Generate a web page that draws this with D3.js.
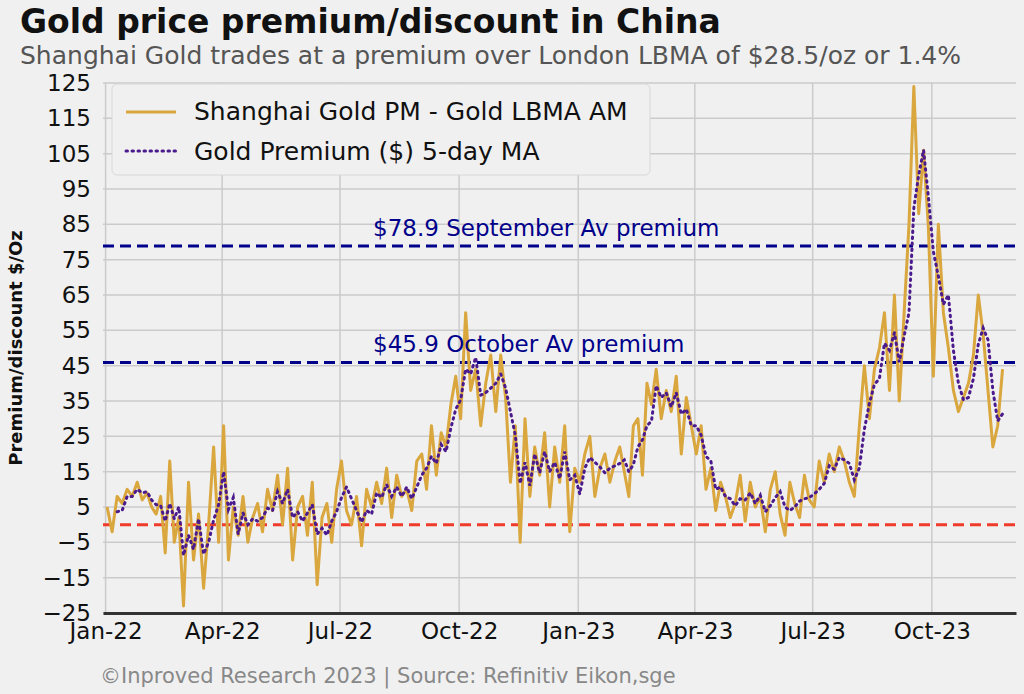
<!DOCTYPE html>
<html>
<head>
<meta charset="utf-8">
<script src="https://cdn.jsdelivr.net/npm/d3@7"></script>
<style>
  body { margin: 0; background: #f0f0f0; }
  text { font-family: "DejaVu Sans", sans-serif; }
</style>
</head>
<body>
<svg id="chart"></svg>
<script>
// Data (~8 samples per month)
const months = ["2022-01","2022-02","2022-03","2022-04","2022-05","2022-06","2022-07","2022-08",
  "2022-09","2022-10","2022-11","2022-12","2023-01","2023-02","2023-03","2023-04","2023-05",
  "2023-06","2023-07","2023-08","2023-09","2023-10","2023-11"];
const premium = [
  [5, -2, 8, 6, 10, 8, 12, 7],
  [9, 5, 3, 8, -8, 18, -5, 2],
  [-23, 12, -10, 3, -18, 0, 22, -5],
  [28, -10, 5, -3, 8, -5, 2, 6],
  [-2, 10, 4, 14, 0, 16, -10, 5],
  [8, -3, 12, -17, 2, 6, -5, 10],
  [18, 4, 0, 8, -6, 10, 5, 12],
  [6, 16, 2, 14, 8, 10, 4, 18],
  [20, 10, 28, 14, 26, 22, 34, 42],
  [30, 60, 38, 44, 28, 40, 48, 32],
  [48, 36, 12, 28, -5, 30, 8, 22],
  [14, 26, 5, 22, 12, 28, -2, 16],
  [12, 20, 25, 8, 16, 20, 12, 18],
  [22, 15, 8, 28, 30, 14, 40, 34],
  [44, 30, 38, 32, 42, 20, 36, 28],
  [20, 28, 10, 16, 4, 12, 8, 2],
  [6, 14, 1, 12, 5, 8, -2, 10],
  [15, 3, -3, 12, 6, 2, 14, 7],
  [5, 18, 12, 20, 15, 22, 18, 12],
  [8, 28, 45, 30, 44, 50, 60, 38],
  [65, 35, 60, 85, 124, 88, 106, 84],
  [42, 85, 60, 50, 38, 32, 36, 40],
  [48, 65, 54, 38, 22, 28, 44]
];
const maWindow = 3;
const sepAvg = 78.9, octAvg = 45.9;
const yTicks = d3.range(-25, 126, 10);
const xTickDates = ["2022-01-01","2022-04-01","2022-07-01","2022-10-01","2023-01-01","2023-04-01","2023-07-01","2023-10-01"];
const xTickLabels = ["Jan-22","Apr-22","Jul-22","Oct-22","Jan-23","Apr-23","Jul-23","Oct-23"];

const width = 1024, height = 694;
const margin = { top: 83, right: 8, bottom: 81, left: 103 };

const parse = d3.timeParse("%Y-%m");
const series = [];
months.forEach((m, i) => {
  const start = parse(m);
  const days = (d3.timeMonth.offset(start, 1) - start) / 864e5;
  const vals = premium[i];
  vals.forEach((v, j) => {
    series.push({ date: d3.timeHour.offset(start, Math.round(24 * (j + 0.3) * days / 8)), value: v });
  });
});
const ma = series.map((d, i) => {
  if (i < maWindow - 1) return { date: d.date, value: null };
  return { date: d.date, value: d3.mean(series.slice(i - maWindow + 1, i + 1), s => s.value) };
});
ma[0].value = 14; // first MA point at start of series

const svg = d3.select("#chart").attr("width", width).attr("height", height);

const x = d3.scaleTime()
  .domain([new Date(2021, 11, 30), new Date(2023, 11, 5)])
  .range([margin.left, width - margin.right]);
const y = d3.scaleLinear().domain([-25, 125]).range([height - margin.bottom, margin.top]);

// grid
svg.append("g").selectAll("line").data(yTicks).join("line")
  .attr("x1", margin.left).attr("x2", width - margin.right)
  .attr("y1", d => y(d)).attr("y2", d => y(d))
  .attr("stroke", "#cbcbcb").attr("stroke-width", 1.5);
svg.append("g").selectAll("line").data(xTickDates).join("line")
  .attr("x1", d => x(new Date(d))).attr("x2", d => x(new Date(d)))
  .attr("y1", margin.top).attr("y2", height - margin.bottom)
  .attr("stroke", "#cbcbcb").attr("stroke-width", 1.5);

// axes
const yAxis = svg.append("g").attr("transform", `translate(${margin.left},0)`)
  .call(d3.axisLeft(y).tickValues(yTicks).tickSize(0).tickPadding(12));
yAxis.select(".domain").remove();
yAxis.selectAll("text").attr("font-size", 23).attr("fill", "#111");

const xAxis = svg.append("g").attr("transform", `translate(0,${height - margin.bottom})`)
  .call(d3.axisBottom(x).tickValues(xTickDates.map(d => new Date(d)))
    .tickFormat((d, i) => xTickLabels[i]).tickSize(0).tickPadding(10));
xAxis.select(".domain").attr("stroke", "#333").attr("stroke-width", 3);
xAxis.selectAll("text").attr("font-size", 23).attr("fill", "#111");

// reference lines
const refs = [
  { v: sepAvg, c: "#00008b" },
  { v: octAvg, c: "#00008b" },
  { v: 0, c: "#f03a2a" }
];
svg.append("g").selectAll("line").data(refs).join("line")
  .attr("x1", margin.left).attr("x2", width - margin.right)
  .attr("y1", d => y(d.v)).attr("y2", d => y(d.v))
  .attr("stroke", d => d.c).attr("stroke-width", 3).attr("stroke-dasharray", "11,6");

// series
const line = d3.line().defined(d => d.value != null).x(d => x(d.date)).y(d => y(d.value));
svg.append("path").datum(series).attr("d", line)
  .attr("fill", "none").attr("stroke", "#d9a73e").attr("stroke-width", 3).attr("stroke-linejoin", "round");
svg.append("path").datum(ma).attr("d", line)
  .attr("fill", "none").attr("stroke", "#4b1a8c").attr("stroke-width", 3)
  .attr("stroke-dasharray", "1.5,4.5").attr("stroke-linecap", "round");

// annotations
svg.append("text").attr("x", 373).attr("y", y(sepAvg) - 10).attr("font-size", 23).attr("fill", "#00008b")
  .text("$78.9 September Av premium");
svg.append("text").attr("x", 373).attr("y", y(octAvg) - 10).attr("font-size", 23).attr("fill", "#00008b")
  .text("$45.9 October Av premium");

// legend
const lg = svg.append("g").attr("transform", "translate(112,84)");
lg.append("rect").attr("width", 538).attr("height", 91).attr("rx", 5)
  .attr("fill", "#f0f0f0").attr("stroke", "#d8d8d8");
lg.append("line").attr("x1", 14).attr("x2", 64).attr("y1", 28).attr("y2", 28)
  .attr("stroke", "#d9a73e").attr("stroke-width", 3);
lg.append("line").attr("x1", 14).attr("x2", 64).attr("y1", 67).attr("y2", 67)
  .attr("stroke", "#4b1a8c").attr("stroke-width", 3).attr("stroke-dasharray", "1.5,4.5").attr("stroke-linecap", "round");
lg.append("text").attr("x", 82).attr("y", 36).attr("font-size", 25).attr("fill", "#111")
  .text("Shanghai Gold PM - Gold LBMA AM");
lg.append("text").attr("x", 82).attr("y", 76).attr("font-size", 25).attr("fill", "#111")
  .text("Gold Premium ($) 5-day MA");

// titles
svg.append("text").attr("x", 20).attr("y", 33).attr("font-size", 33).attr("font-weight", "bold")
  .attr("fill", "#111").text("Gold price premium/discount in China");
svg.append("text").attr("x", 20).attr("y", 64).attr("font-size", 25).attr("fill", "#555")
  .text("Shanghai Gold trades at a premium over London LBMA of $28.5/oz or 1.4%");
svg.append("text").attr("transform", `translate(22,${y(50)}) rotate(-90)`)
  .attr("text-anchor", "middle").attr("font-size", 18).attr("font-weight", "bold").attr("fill", "#111")
  .text("Premium/discount $/Oz");
svg.append("text").attr("x", 100).attr("y", 683).attr("font-size", 21).attr("fill", "#888")
  .text("©Inproved Research 2023 | Source: Refinitiv Eikon,sge");
</script>
</body>
</html>
